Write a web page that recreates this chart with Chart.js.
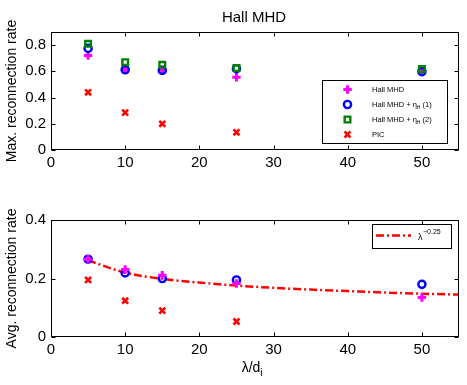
<!DOCTYPE html>
<html>
<head>
<meta charset="utf-8">
<script src="https://cdn.jsdelivr.net/npm/chart.js@4"></script>
<style>
  body { margin: 0; background: #fff; }
  canvas { position: absolute; left: 0; }
  #top { top: 0; }
  #bot { top: 190px; }
</style>
</head>
<body>
<canvas id="top" width="467" height="190"></canvas>
<canvas id="bot" width="467" height="195"></canvas>
<script>
const FONT = "'Liberation Sans', Arial, sans-serif";

// lambda / d_i values
const xVals = [5, 10, 15, 25, 50];
const xPic = [5, 10, 15, 25];

// max reconnection rate
const maxHall = [0.72, 0.615, 0.61, 0.555, 0.61];
const maxEta1 = [0.775, 0.612, 0.607, 0.62, 0.597];
const maxEta2 = [0.81, 0.67, 0.65, 0.625, 0.617];
const maxPic = [0.44, 0.285, 0.2, 0.135];

// avg reconnection rate
const avgHall = [0.266, 0.231, 0.211, 0.183, 0.135];
const avgEta1 = [0.266, 0.219, 0.2, 0.195, 0.18];
const avgPic = [0.195, 0.124, 0.09, 0.053];

// lambda^-0.25 curve
const fitX = [5, 10, 15, 20, 25, 30, 35, 40, 45, 50, 55];
const fitY = [0.262, 0.22, 0.199, 0.186, 0.176, 0.168, 0.162, 0.157, 0.152, 0.148, 0.145];

const xTicks = [0, 10, 20, 30, 40, 50];
const topYTicks = [0, 0.2, 0.4, 0.6, 0.8];
const botYTicks = [0, 0.2, 0.4];

const pts = (xs, ys) => xs.map((x, i) => ({ x: x, y: ys[i] }));

const MAG = '#ff00ff', BLUE = '#0000ff', GREEN = '#008000', RED = '#ff0000';

const styles = {
  hall: { pointStyle: 'cross', pointRadius: 4.2, pointBorderWidth: 3, pointBorderColor: MAG, pointBackgroundColor: MAG },
  eta1: { pointStyle: 'circle', pointRadius: 3.6, pointBorderWidth: 2.4, pointBorderColor: BLUE, pointBackgroundColor: 'rgba(0,0,0,0)' },
  eta2: { pointStyle: 'rect', pointRadius: 4, pointBorderWidth: 2.4, pointBorderColor: GREEN, pointBackgroundColor: 'rgba(0,0,0,0)' },
  pic: { pointStyle: 'crossRot', pointRadius: 4.2, pointBorderWidth: 2.6, pointBorderColor: RED, pointBackgroundColor: RED }
};

function drawMarker(ctx, st, x, y) {
  ctx.save();
  ctx.strokeStyle = st.pointBorderColor;
  ctx.lineWidth = st.pointBorderWidth;
  const r = st.pointRadius;
  ctx.beginPath();
  if (st.pointStyle === 'cross') {
    ctx.moveTo(x - r, y); ctx.lineTo(x + r, y);
    ctx.moveTo(x, y - r); ctx.lineTo(x, y + r);
  } else if (st.pointStyle === 'crossRot') {
    const o = r * Math.SQRT1_2;
    ctx.moveTo(x - o, y - o); ctx.lineTo(x + o, y + o);
    ctx.moveTo(x - o, y + o); ctx.lineTo(x + o, y - o);
  } else if (st.pointStyle === 'circle') {
    ctx.arc(x, y, r, 0, Math.PI * 2);
  } else {
    const s = r * Math.SQRT1_2;
    ctx.rect(x - s, y - s, 2 * s, 2 * s);
  }
  ctx.stroke();
  ctx.restore();
}

// MATLAB like box with inward ticks on all sides
const boxPlugin = {
  id: 'box',
  afterDraw(chart) {
    const { ctx, chartArea: a, scales } = chart;
    const L = Math.round(a.left) + 0.5, R = Math.round(a.right) - 0.5;
    const T = Math.round(a.top) + 0.5, B = Math.round(a.bottom) - 0.5;
    ctx.save();
    ctx.strokeStyle = '#000';
    ctx.lineWidth = 1;
    ctx.strokeRect(L, T, R - L, B - T);
    ctx.beginPath();
    scales.x.ticks.forEach(t => {
      const px = Math.round(scales.x.getPixelForValue(t.value)) + 0.5;
      ctx.moveTo(px, B); ctx.lineTo(px, B - 4);
      ctx.moveTo(px, T); ctx.lineTo(px, T + 4);
    });
    scales.y.ticks.forEach(t => {
      const py = Math.round(scales.y.getPixelForValue(t.value)) + 0.5;
      ctx.moveTo(L, py); ctx.lineTo(L + 4, py);
      ctx.moveTo(R, py); ctx.lineTo(R - 4, py);
    });
    ctx.stroke();
    ctx.restore();
  }
};

// text with a subscript part
function subText(ctx, x, y, main, sub, size, after) {
  ctx.font = size + 'px ' + FONT;
  ctx.fillText(main, x, y);
  x += ctx.measureText(main).width;
  ctx.font = Math.round(size * 0.72) + 'px ' + FONT;
  ctx.fillText(sub, x, y + size * 0.3);
  x += ctx.measureText(sub).width;
  if (after) {
    ctx.font = size + 'px ' + FONT;
    ctx.fillText(after, x, y);
  }
}

const topDecor = {
  id: 'topDecor',
  afterDraw(chart) {
    const ctx = chart.ctx;
    ctx.save();
    ctx.fillStyle = '#000';
    ctx.textBaseline = 'alphabetic';
    ctx.textAlign = 'center';
    ctx.font = '15px ' + FONT;
    ctx.fillText('Hall MHD', 254, 22);
    // legend box
    ctx.fillStyle = '#fff';
    ctx.fillRect(322, 80, 125, 63);
    ctx.strokeStyle = '#000';
    ctx.lineWidth = 1;
    ctx.strokeRect(322.5, 80.5, 125, 63);
    const rows = [
      [styles.hall, 'Hall MHD'],
      [styles.eta1, '(1)'],
      [styles.eta2, '(2)'],
      [styles.pic, 'PIC']
    ];
    ctx.textAlign = 'left';
    ctx.fillStyle = '#000';
    rows.forEach((r, i) => {
      const y = 89.5 + i * 15;
      drawMarker(ctx, r[0], 347.5, y);
      if (i === 1 || i === 2) {
        subText(ctx, 372, y + 2.5, 'Hall MHD + \u03b7', 'H', 7.5, ' ' + r[1]);
      } else {
        ctx.font = '7.5px ' + FONT;
        ctx.fillText(r[1], 372, y + 2.5);
      }
    });
    ctx.restore();
  }
};

const botDecor = {
  id: 'botDecor',
  afterDraw(chart) {
    const ctx = chart.ctx;
    ctx.save();
    ctx.fillStyle = '#000';
    ctx.textAlign = 'left';
    // x title
    ctx.font = '14px ' + FONT;
    const w = ctx.measureText('\u03bb/d').width;
    subText(ctx, 253 - w / 2 - 2, 182, '\u03bb/d', 'i', 14);
    // legend
    const by = 224 - 190;
    ctx.fillStyle = '#fff';
    ctx.fillRect(372, by, 80, 24);
    ctx.strokeStyle = '#000';
    ctx.lineWidth = 1;
    ctx.strokeRect(372.5, by + 0.5, 79, 24);
    ctx.strokeStyle = RED;
    ctx.lineWidth = 2.5;
    ctx.setLineDash([8, 3, 2, 3]);
    ctx.beginPath();
    ctx.moveTo(376, by + 11.5);
    ctx.lineTo(411, by + 11.5);
    ctx.stroke();
    ctx.setLineDash([]);
    ctx.fillStyle = '#000';
    ctx.font = '9px ' + FONT;
    ctx.fillText('\u03bb', 418, by + 16);
    ctx.font = '7px ' + FONT;
    ctx.fillText('\u22120.25', 423, by + 10);
    ctx.restore();
  }
};

function fixedTicks(arr) {
  return scale => { scale.ticks = arr.map(v => ({ value: v })); };
}

function makeOptions(yMax, yTicks, yTitle, xHeight, padTop) {
  return {
    responsive: false,
    animation: false,
    devicePixelRatio: 1,
    layout: { padding: { top: padTop, right: 8, left: 0, bottom: 0 } },
    plugins: { legend: { display: false }, tooltip: { enabled: false } },
    scales: {
      x: {
        type: 'linear', min: 0, max: 55,
        grid: { display: false, drawTicks: false },
        border: { display: false },
        afterBuildTicks: fixedTicks(xTicks),
        afterFit: s => { s.height = xHeight; },
        ticks: { padding: 4, color: '#000', font: { family: FONT, size: 15 }, maxRotation: 0,
                 callback: v => String(v) }
      },
      y: {
        min: 0, max: yMax,
        grid: { display: false, drawTicks: false },
        border: { display: false },
        afterBuildTicks: fixedTicks(yTicks),
        afterFit: s => { s.width = 51; },
        ticks: { padding: 5, color: '#000', font: { family: FONT, size: 15 },
                 callback: v => String(v) },
        title: { display: true, text: yTitle, color: '#000', padding: { top: 4, bottom: 0 },
                 font: { family: FONT, size: 14 } }
      }
    }
  };
}

new Chart(document.getElementById('top'), {
  type: 'scatter',
  data: {
    datasets: [
      Object.assign({ label: 'Hall MHD', data: pts(xVals, maxHall), order: 4 }, styles.hall),
      Object.assign({ label: 'Hall MHD + eta_H (1)', data: pts(xVals, maxEta1), order: 3 }, styles.eta1),
      Object.assign({ label: 'Hall MHD + eta_H (2)', data: pts(xVals, maxEta2), order: 2 }, styles.eta2),
      Object.assign({ label: 'PIC', data: pts(xPic, maxPic), order: 1 }, styles.pic)
    ]
  },
  options: makeOptions(0.9, topYTicks, 'Max. reconnection rate', 40, 32),
  plugins: [boxPlugin, topDecor]
});

new Chart(document.getElementById('bot'), {
  type: 'scatter',
  data: {
    datasets: [
      Object.assign({ label: 'Hall MHD', data: pts(xVals, avgHall), order: 1 }, styles.hall),
      Object.assign({ label: 'Hall MHD + eta_H (1)', data: pts(xVals, avgEta1), order: 2 }, styles.eta1),
      Object.assign({ label: 'PIC', data: pts(xPic, avgPic), order: 3 }, styles.pic),
      {
        label: 'lambda^-0.25', type: 'line', data: pts(fitX, fitY), order: 4,
        showLine: true, pointRadius: 0, borderColor: RED, borderWidth: 2.5,
        borderDash: [8, 3, 2, 3], cubicInterpolationMode: 'monotone', fill: false
      }
    ]
  },
  options: makeOptions(0.4, botYTicks, 'Avg. reconnection rate', 48, 30),
  plugins: [boxPlugin, botDecor]
});
</script>
</body>
</html>
